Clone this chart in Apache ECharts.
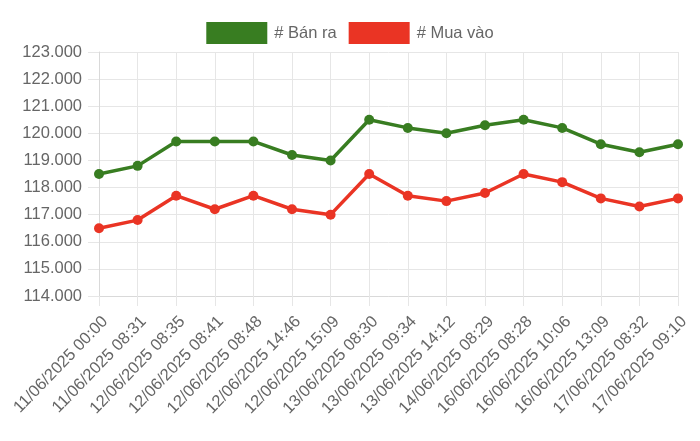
<!DOCTYPE html>
<html>
<head>
<meta charset="utf-8">
<script src="https://cdn.jsdelivr.net/npm/echarts@6/dist/echarts.min.js"></script>
<style>
  html, body { margin: 0; padding: 0; background: #fff; }
  #chart { width: 700px; height: 441px; }
</style>
</head>
<body>
<div id="chart"></div>
<script>
  // ===== 数据 =====
  const categories = [
    "11/06/2025 00:00", "11/06/2025 08:31", "12/06/2025 08:35", "12/06/2025 08:41",
    "12/06/2025 08:48", "12/06/2025 14:46", "12/06/2025 15:09", "13/06/2025 08:30",
    "13/06/2025 09:34", "13/06/2025 14:12", "14/06/2025 08:29", "16/06/2025 08:28",
    "16/06/2025 10:06", "16/06/2025 13:09", "17/06/2025 08:32", "17/06/2025 09:10"
  ];
  const banRa = [118500, 118800, 119700, 119700, 119700, 119200, 119000, 120500,
                 120200, 120000, 120300, 120500, 120200, 119600, 119300, 119600];
  const muaVao = [116500, 116800, 117700, 117200, 117700, 117200, 117000, 118500,
                  117700, 117500, 117800, 118500, 118200, 117600, 117300, 117600];

  const GREEN = "#387d21";
  const RED = "#ea3424";
  const FONT = "'Liberation Sans', Arial, sans-serif";
  const FS = 16.5;

  function fmtVN(v) {
    return String(v).replace(/\B(?=(\d{3})+(?!\d))/g, ".");
  }

  const chart = echarts.init(document.getElementById("chart"));
  chart.setOption({
    animation: false,
    textStyle: { fontFamily: FONT },
    legend: {
      top: 17, left: "center",
      itemWidth: 61, itemHeight: 22, itemGap: 12,
      icon: "rect",
      textStyle: { color: "#666", fontSize: FS, fontFamily: FONT, padding: [0, 0, 0, 2] },
      data: ["# Bán ra", "# Mua vào"]
    },
    grid: { left: 99, right: 22, top: 52, bottom: 145 },
    xAxis: {
      type: "category", data: categories, boundaryGap: false,
      axisLine: { lineStyle: { color: "#d9d9d9" } },
      axisTick: { show: true, length: 10, lineStyle: { color: "#e6e6e6" } },
      splitLine: { show: true, lineStyle: { color: "#e6e6e6" } },
      axisLabel: {
        rotate: 46, color: "#666", fontSize: FS, margin: 17, interval: 0,
        align: "right", verticalAlign: "top", fontFamily: FONT
      }
    },
    yAxis: {
      type: "value", min: 114000, max: 123000, interval: 1000,
      axisLine: { show: true, lineStyle: { color: "#d9d9d9" } },
      axisTick: { show: true, length: 11, lineStyle: { color: "#e6e6e6" } },
      splitLine: { lineStyle: { color: "#e6e6e6" } },
      axisLabel: { color: "#666", fontSize: FS, margin: 17, formatter: fmtVN, fontFamily: FONT }
    },
    series: [
      {
        name: "# Bán ra", type: "line", data: banRa,
        symbol: "circle", symbolSize: 10,
        lineStyle: { color: GREEN, width: 3.5 },
        itemStyle: { color: GREEN }
      },
      {
        name: "# Mua vào", type: "line", data: muaVao,
        symbol: "circle", symbolSize: 10,
        lineStyle: { color: RED, width: 3.5 },
        itemStyle: { color: RED }
      }
    ]
  });
</script>
</body>
</html>
